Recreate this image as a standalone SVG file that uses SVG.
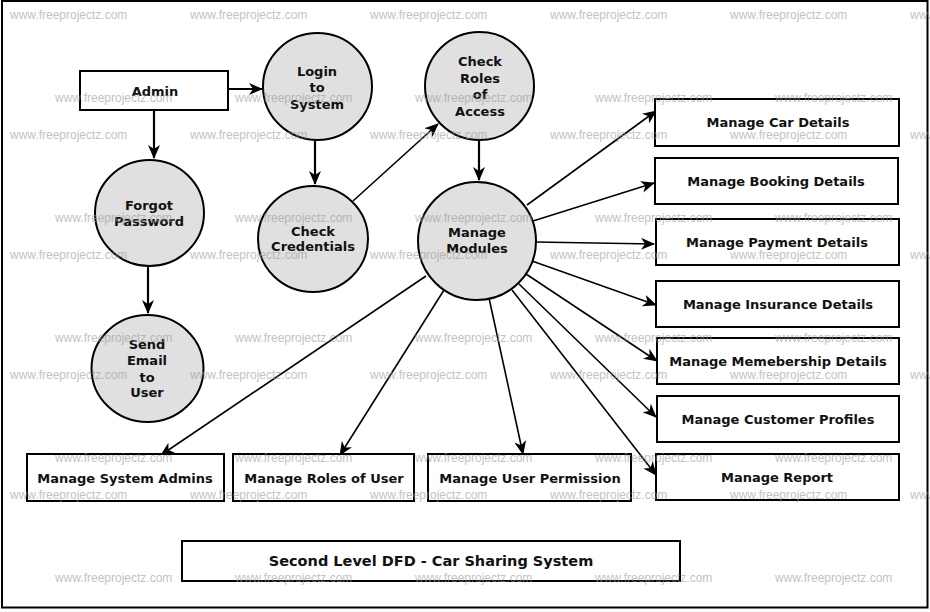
<svg xmlns="http://www.w3.org/2000/svg" width="930" height="612" viewBox="0 0 930 612">
<defs>
<marker id="ah" viewBox="0 0 14 12" refX="13" refY="6" markerWidth="14" markerHeight="12" markerUnits="userSpaceOnUse" orient="auto">
<path d="M0,0 L14,6 L0,12 L4,6 z" fill="#000"/>
</marker>
<style>
.box{fill:#fff;stroke:#000;stroke-width:2}
.proc{fill:#e0e0e0;stroke:#000;stroke-width:2}
.lbl{font-family:"DejaVu Sans",sans-serif;font-weight:bold;font-size:13px;fill:#111;text-anchor:middle;dominant-baseline:central}
.ttl{font-family:"DejaVu Sans",sans-serif;font-weight:bold;font-size:14.5px;fill:#111;text-anchor:middle;dominant-baseline:central}
.c{fill:none;stroke:#000;stroke-width:1.6;marker-end:url(#ah)}
.c2{fill:none;stroke:#000;stroke-width:2.2;marker-end:url(#ah)}
.wm{font-family:"Liberation Sans",Arial,sans-serif;font-size:12px;fill:#9a9a9a;opacity:0.6}
</style>
</defs>
<rect x="0" y="0" width="930" height="612" fill="#fff"/>
<rect x="2" y="1" width="925.5" height="606.5" fill="none" stroke="#000" stroke-width="2"/>

<g id="connectors">
<line class="c2" x1="229" y1="89" x2="262" y2="89"/>
<line class="c2" x1="154" y1="111" x2="154" y2="158"/>
<line class="c2" x1="148" y1="266" x2="148" y2="313"/>
<line class="c2" x1="315" y1="141" x2="315" y2="184"/>
<line class="c" x1="353" y1="201" x2="438" y2="124"/>
<line class="c2" x1="479" y1="140" x2="479" y2="180"/>
<line class="c" x1="527" y1="205" x2="656" y2="111"/>
<line class="c" x1="533" y1="221" x2="654" y2="183"/>
<line class="c" x1="535" y1="242" x2="654" y2="244"/>
<line class="c" x1="532" y1="261" x2="656" y2="305"/>
<line class="c" x1="526" y1="274" x2="657" y2="361"/>
<line class="c" x1="519" y1="284" x2="656" y2="417"/>
<line class="c" x1="512" y1="290" x2="656" y2="475"/>
<line class="c" x1="489" y1="298" x2="523" y2="454"/>
<line class="c" x1="444" y1="290" x2="340" y2="455"/>
<line class="c" x1="426" y1="276" x2="161" y2="455"/>
</g>

<g id="admin"><rect class="box" x="80" y="71" width="148" height="39"/><text class="lbl" x="155" y="91">Admin</text></g>
<g id="login"><ellipse class="proc" cx="317.5" cy="86.5" rx="54.5" ry="53.5"/><text class="lbl" x="317" y="71">Login</text><text class="lbl" x="317" y="87">to</text><text class="lbl" x="317" y="104">System</text></g>
<g id="forgot"><ellipse class="proc" cx="149.5" cy="213" rx="54.5" ry="53"/><text class="lbl" x="149" y="205">Forgot</text><text class="lbl" x="149" y="221">Password</text></g>
<g id="sendemail"><ellipse class="proc" cx="147.5" cy="368.5" rx="56" ry="53.5"/><text class="lbl" x="147" y="344">Send</text><text class="lbl" x="147" y="360">Email</text><text class="lbl" x="147" y="377">to</text><text class="lbl" x="147" y="392">User</text></g>
<g id="checkcred"><ellipse class="proc" cx="313" cy="239" rx="55" ry="53"/><text class="lbl" x="313" y="231">Check</text><text class="lbl" x="313" y="246">Credentials</text></g>
<g id="checkroles"><ellipse class="proc" cx="479.5" cy="86" rx="54.5" ry="54"/><text class="lbl" x="480" y="61">Check</text><text class="lbl" x="480" y="78">Roles</text><text class="lbl" x="480" y="94">of</text><text class="lbl" x="480" y="111">Access</text></g>
<g id="modules"><ellipse class="proc" cx="477" cy="241" rx="59" ry="59"/><text class="lbl" x="477" y="232">Manage</text><text class="lbl" x="477" y="248">Modules</text></g>

<g id="car"><rect class="box" x="655" y="99" width="244" height="47"/><text class="lbl" x="778" y="122">Manage Car Details</text></g>
<g id="booking"><rect class="box" x="655" y="158" width="243" height="46"/><text class="lbl" x="776" y="181">Manage Booking Details</text></g>
<g id="payment"><rect class="box" x="656" y="219" width="243" height="46"/><text class="lbl" x="777" y="242">Manage Payment Details</text></g>
<g id="insurance"><rect class="box" x="656" y="281" width="243" height="46"/><text class="lbl" x="778" y="304">Manage Insurance Details</text></g>
<g id="membership"><rect class="box" x="657" y="338" width="242" height="46"/><text class="lbl" x="778" y="361">Manage Memebership Details</text></g>
<g id="customer"><rect class="box" x="657" y="396" width="242" height="46"/><text class="lbl" x="778" y="419">Manage Customer Profiles</text></g>
<g id="report"><rect class="box" x="656" y="454" width="243" height="46"/><text class="lbl" x="777" y="477">Manage Report</text></g>
<g id="sysadmins"><rect class="box" x="27" y="454" width="197" height="47"/><text class="lbl" x="125" y="478">Manage System Admins</text></g>
<g id="roles"><rect class="box" x="233" y="454" width="181" height="47"/><text class="lbl" x="324" y="478">Manage Roles of User</text></g>
<g id="permission"><rect class="box" x="428" y="454" width="203" height="47"/><text class="lbl" x="530" y="478">Manage User Permission</text></g>
<g id="title"><rect class="box" x="182" y="541" width="498" height="40"/><text class="ttl" x="431" y="561">Second Level DFD - Car Sharing System</text></g>

<g id="watermarks" class="wm">
<text x="10" y="19">www.freeprojectz.com</text><text x="190" y="19">www.freeprojectz.com</text><text x="370" y="19">www.freeprojectz.com</text><text x="550" y="19">www.freeprojectz.com</text><text x="730" y="19">www.freeprojectz.com</text><text x="910" y="19">www.freeprojectz.com</text>
<text x="55" y="102">www.freeprojectz.com</text><text x="235" y="102">www.freeprojectz.com</text><text x="415" y="102">www.freeprojectz.com</text><text x="595" y="102">www.freeprojectz.com</text><text x="775" y="102">www.freeprojectz.com</text>
<text x="10" y="139">www.freeprojectz.com</text><text x="190" y="139">www.freeprojectz.com</text><text x="370" y="139">www.freeprojectz.com</text><text x="550" y="139">www.freeprojectz.com</text><text x="730" y="139">www.freeprojectz.com</text><text x="910" y="139">www.freeprojectz.com</text>
<text x="55" y="222">www.freeprojectz.com</text><text x="235" y="222">www.freeprojectz.com</text><text x="415" y="222">www.freeprojectz.com</text><text x="595" y="222">www.freeprojectz.com</text><text x="775" y="222">www.freeprojectz.com</text>
<text x="10" y="259">www.freeprojectz.com</text><text x="190" y="259">www.freeprojectz.com</text><text x="370" y="259">www.freeprojectz.com</text><text x="550" y="259">www.freeprojectz.com</text><text x="730" y="259">www.freeprojectz.com</text><text x="910" y="259">www.freeprojectz.com</text>
<text x="55" y="342">www.freeprojectz.com</text><text x="235" y="342">www.freeprojectz.com</text><text x="415" y="342">www.freeprojectz.com</text><text x="595" y="342">www.freeprojectz.com</text><text x="775" y="342">www.freeprojectz.com</text>
<text x="10" y="379">www.freeprojectz.com</text><text x="190" y="379">www.freeprojectz.com</text><text x="370" y="379">www.freeprojectz.com</text><text x="550" y="379">www.freeprojectz.com</text><text x="730" y="379">www.freeprojectz.com</text><text x="910" y="379">www.freeprojectz.com</text>
<text x="55" y="462">www.freeprojectz.com</text><text x="235" y="462">www.freeprojectz.com</text><text x="415" y="462">www.freeprojectz.com</text><text x="595" y="462">www.freeprojectz.com</text><text x="775" y="462">www.freeprojectz.com</text>
<text x="10" y="499">www.freeprojectz.com</text><text x="190" y="499">www.freeprojectz.com</text><text x="370" y="499">www.freeprojectz.com</text><text x="550" y="499">www.freeprojectz.com</text><text x="730" y="499">www.freeprojectz.com</text><text x="910" y="499">www.freeprojectz.com</text>
<text x="55" y="582">www.freeprojectz.com</text><text x="235" y="582">www.freeprojectz.com</text><text x="415" y="582">www.freeprojectz.com</text><text x="595" y="582">www.freeprojectz.com</text><text x="775" y="582">www.freeprojectz.com</text>
</g>
</svg>
